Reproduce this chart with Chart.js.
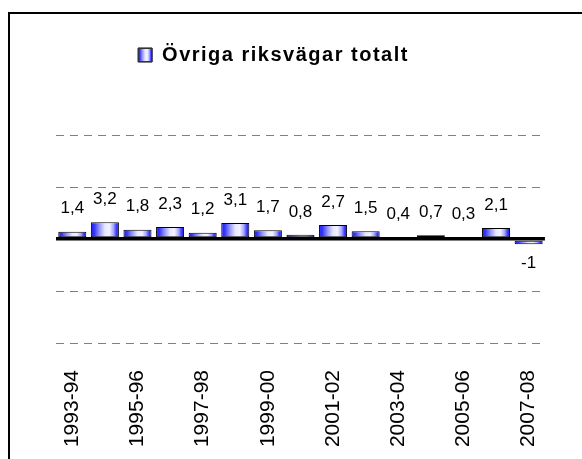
<!DOCTYPE html>
<html lang="sv">
<head>
  <meta charset="UTF-8">
  <title>Övriga riksvägar totalt</title>
  <script src="https://cdn.jsdelivr.net/npm/chart.js"></script>
  <style>
    body {
      margin: 0;
      background: #fff;
      overflow: hidden;
    }
    .frame {
      position: absolute;
      left: 8px;
      top: 12px;
      width: 600px;
      height: 470px;
      border: 2px solid #000;
    }
  </style>
</head>
<body>
  <div class="frame">
    <canvas id="chart" width="572" height="445"></canvas>
  </div>
  <script>
    const seasons = ['1993-94', '1994-95', '1995-96', '1996-97', '1997-98', '1998-99', '1999-00', '2000-01',
                     '2001-02', '2002-03', '2003-04', '2004-05', '2005-06', '2006-07', '2007-08'];
    const values = [1.4, 3.2, 1.8, 2.3, 1.2, 3.1, 1.7, 0.8, 2.7, 1.5, 0.4, 0.7, 0.3, 2.1, -1];
    const seriesName = 'Övriga riksvägar totalt';
    const yTicks = { min: -20, max: 20, step: 10 };

    const font = "'Liberation Sans', Arial, sans-serif";
    const barPct = 0.86;

    // horizontal blue -> white -> blue shading like the old office bars
    function shade(ctx, x0, x1) {
      const g = ctx.createLinearGradient(x0, 0, x1, 0);
      g.addColorStop(0, '#2020f0');
      g.addColorStop(0.12, '#3434ff');
      g.addColorStop(0.3, '#9494ff');
      g.addColorStop(0.5, '#e8e8ff');
      g.addColorStop(0.66, '#f2f2ff');
      g.addColorStop(0.8, '#aaaaff');
      g.addColorStop(0.92, '#3434ff');
      g.addColorStop(1, '#2020e0');
      return g;
    }

    const labelPlugin = {
      id: 'valueLabels',
      afterInit(chart) {
        // wider letter spacing for the legend text
        const lg = chart.legend;
        const fit = lg.fit.bind(lg);
        const draw = lg.draw.bind(lg);
        lg.fit = function () {
          chart.ctx.save(); chart.ctx.letterSpacing = '1.5px'; fit(); chart.ctx.restore();
        };
        lg.draw = function () {
          chart.ctx.save(); chart.ctx.letterSpacing = '1.5px'; draw(); chart.ctx.restore();
        };
      },
      afterLayout(chart) {
        chart.legend.left -= 28;
        chart.legend.right -= 28;
      },
      afterDatasetsDraw(chart) {
        const ctx = chart.ctx;
        const meta = chart.getDatasetMeta(0);
        ctx.save();
        ctx.font = "17px " + font;
        ctx.fillStyle = '#000';
        ctx.textAlign = 'center';
        ctx.textBaseline = 'middle';
        meta.data.forEach((bar, i) => {
          const v = values[i];
          const txt = String(v).replace('.', ',');
          const y = v >= 0 ? bar.y - 23 : bar.y + 19;
          ctx.fillText(txt, bar.x, y);
        });
        ctx.restore();
      },
      afterDraw(chart) {
        const hb = chart.legend.legendHitBoxes[0];
        if (!hb) return;
        const ctx = chart.ctx;
        const size = 14;
        const top = hb.top + (20 - size) / 2;
        ctx.save();
        ctx.fillStyle = shade(ctx, hb.left, hb.left + size);
        ctx.fillRect(hb.left, top, size, size);
        ctx.strokeStyle = '#333';
        ctx.lineWidth = 1;
        ctx.strokeRect(hb.left + 0.5, top + 0.5, size - 1, size - 1);
        ctx.restore();
      }
    };

    new Chart(document.getElementById('chart'), {
      type: 'bar',
      data: {
        labels: seasons,
        datasets: [{
          label: seriesName,
          data: values,
          backgroundColor: (c) => {
            const xs = c.chart.scales.x;
            if (c.dataIndex == null || !xs) return '#6a6aff';
            const cx = xs.getPixelForValue(c.dataIndex);
            const w = xs.width / seasons.length * barPct;
            if (!isFinite(cx) || !isFinite(w) || w <= 0) return '#6a6aff';
            return shade(c.chart.ctx, cx - w / 2, cx + w / 2);
          },
          borderColor: '#000',
          borderWidth: 1,
          borderSkipped: false,
          barPercentage: barPct,
          categoryPercentage: 1
        }]
      },
      options: {
        responsive: false,
        animation: false,
        layout: { padding: { left: 46, right: 35, top: 21, bottom: 0 } },
        plugins: {
          legend: {
            position: 'top',
            labels: {
              boxWidth: 14,
              boxHeight: 14,
              padding: 10,
              color: '#000',
              font: { family: font, size: 20, weight: 'bold' }
            }
          },
          title: {
            display: true,
            text: '',
            weight: 500,
            font: { size: 10 },
            padding: { top: 0, bottom: 48 }
          },
          tooltip: { enabled: false }
        },
        scales: {
          x: {
            grid: { display: false, drawTicks: false },
            border: { display: false },
            afterFit: (s) => { s.height = 116; },
            ticks: {
              autoSkip: false,
              minRotation: 90,
              maxRotation: 90,
              padding: 27,
              color: '#000',
              font: { family: font, size: 21 },
              callback: (v, i) => i % 2 === 0 ? seasons[i] : ''
            }
          },
          y: {
            min: yTicks.min,
            max: yTicks.max,
            ticks: { display: false, stepSize: yTicks.step },
            grid: {
              drawTicks: false,
              color: (c) => c.tick && c.tick.value === 0 ? '#000' : '#808080',
              lineWidth: (c) => c.tick && c.tick.value === 0 ? 3.5 : 1
            },
            border: {
              display: false,
              dash: (c) => c.tick && c.tick.value === 0 ? [] : [8, 6]
            }
          }
        }
      },
      plugins: [labelPlugin]
    });
  </script>
</body>
</html>
